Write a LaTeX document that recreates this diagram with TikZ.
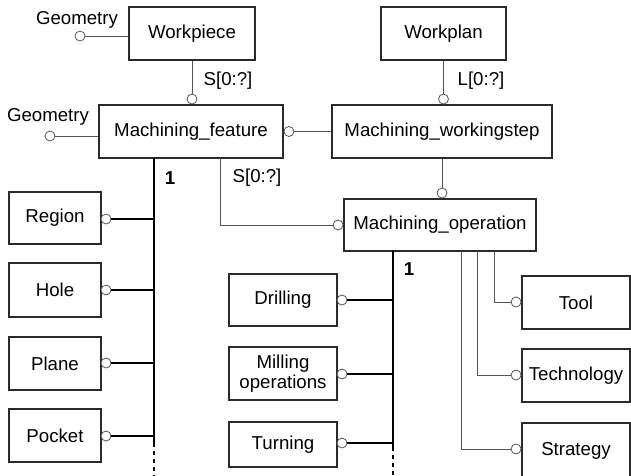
\documentclass[tikz,border=0pt]{standalone}
\usepackage{fontspec}
\setmainfont{Liberation Sans}
\usetikzlibrary{positioning,calc}
\definecolor{lineGray}{HTML}{555555}
\definecolor{boxLine}{HTML}{2A2A2A}

\begin{document}
\begin{tikzpicture}[x=0.75pt,y=-0.75pt,every text node part/.style={align=center}]
\tikzset{myFont/.style={font=\fontsize{14}{15}\selectfont}}
\tikzset{entity/.style={draw=boxLine,line width=0.8pt,myFont,inner sep=0pt,minimum height=39.75pt}}
\tikzset{ball/.style={draw=lineGray,circle,fill=white,line width=0.6pt,minimum size=7.5pt,inner sep=0pt}}
\tikzset{thinLine/.style={draw=lineGray,line width=0.75pt}}
\tikzset{spine/.style={draw=black,line width=1.5pt}}
\tikzset{spineEnd/.style={draw=black,line width=1.5pt,dash pattern=on 3pt off 3pt}}

\useasboundingbox (0,0) rectangle (631,475);
\clip (0,0) rectangle (631,475);

% upper row
\node[entity,minimum width=94.5pt] (wp) at (192,33.5) {Workpiece};
\node[entity,minimum width=93.75pt] (plan) at (443.5,33.5) {Workplan};
\node[entity,minimum width=138pt] (mf) at (191,131.5) {Machining\_feature};
\node[entity,minimum width=165pt] (ws) at (442,131.5) {Machining\_workingstep};
\node[entity,minimum width=144pt,minimum height=39pt] (op) at (440,225) {Machining\_operation};

% geometry attributes
\node[ball] (gWp) at (80,36) {};
\node[myFont,anchor=center] (gWpText) at (77,20) {Geometry};
\draw[thinLine] (gWp) -- (gWp -| wp.west);
\node[ball] (gMf) at (50,136) {};
\node[myFont,anchor=center] (gMfText) at (48,117) {Geometry};
\draw[thinLine] (gMf) -- (gMf -| mf.west);

% top links
\node[ball,anchor=south] (cMf) at (wp.south |- mf.north) {};
\draw[thinLine] (wp.south) -- (cMf);
\node[myFont] (sWp) at (228,81) {S[0:?]};
\node[ball,anchor=south] (cWs) at (plan.south |- ws.north) {};
\draw[thinLine] (plan.south) -- (cWs);
\node[myFont] (lPlan) at (481,81) {L[0:?]};
\node[ball,anchor=west] (cMfWs) at (mf.east) {};
\draw[thinLine] (cMfWs) -- (ws.west);
\node[ball,anchor=south] (cOpTop) at (ws.south |- op.north) {};
\draw[thinLine] (ws.south) -- (cOpTop);

% feature to operation
\coordinate (mfTap) at (220,158);
\node[ball,anchor=east] (cOpLeft) at (op.west) {};
\draw[thinLine] (mfTap) |- (cOpLeft);
\node[myFont] (sMf) at (257,178) {S[0:?]};

% feature subtypes
\node[entity,minimum width=69pt,minimum height=39pt] (region) at (55,218) {Region};
\node[entity,minimum width=69pt,minimum height=40.5pt] (hole) at (55,290) {Hole};
\node[entity,minimum width=69pt] (plane) at (55,363.5) {Plane};
\node[entity,minimum width=69pt] (pocket) at (55,435.5) {Pocket};
\coordinate (spineTop) at (154,158);
\coordinate (spineSolid) at (154,443);
\coordinate (spineBot) at (154,476);
\draw[spine] (spineTop) -- (spineSolid);
\draw[spineEnd] (spineSolid) -- (spineBot);
\node[font=\fontsize{14}{15}\selectfont\bfseries] (oneMf) at (170,178) {1};
\foreach \sub/\yy in {region/219,hole/290,plane/363,pocket/436}{
  \node[ball] (c\sub) at (106,\yy) {};
  \draw[spine,line width=1.2pt] (c\sub) -- (c\sub -| spineTop);
}

% operation subtypes
\node[entity,minimum width=81pt,minimum height=39pt] (drill) at (283,300) {Drilling};
\node[entity,minimum width=81pt] (mill) at (283,373.5) {Milling\\operations};
\node[entity,minimum width=81pt,minimum height=33.75pt] (turn) at (283,444.5) {Turning};
\coordinate (opSpineTop) at (393,251);
\coordinate (opSpineSolid) at (393,447);
\coordinate (opSpineBot) at (393,476);
\draw[spine] (opSpineTop) -- (opSpineSolid);
\draw[spineEnd] (opSpineSolid) -- (opSpineBot);
\node[font=\fontsize{14}{15}\selectfont\bfseries] (oneOp) at (409,269) {1};
\foreach \sub/\yy in {drill/300,mill/374,turn/443}{
  \node[ball] (c\sub) at (342,\yy) {};
  \draw[spine,line width=1.2pt] (c\sub) -- (c\sub -| opSpineTop);
}

% operation attributes
\node[entity,minimum width=81pt] (tool) at (576,302.5) {Tool};
\node[entity,minimum width=81pt] (tech) at (576,375.5) {Technology};
\node[entity,minimum width=81pt,minimum height=50.25pt,text depth=12pt] (strat) at (576,456.5) {Strategy};
\foreach \att/\xx/\yy in {tool/494/302,tech/477/375,strat/461/449}{
  \coordinate (t\att) at (\xx,251);
  \node[ball,anchor=east] (c\att) at (tech.west |- 0,\yy) {};
  \draw[thinLine] (t\att) |- (c\att);
}
\end{tikzpicture}
\end{document}
